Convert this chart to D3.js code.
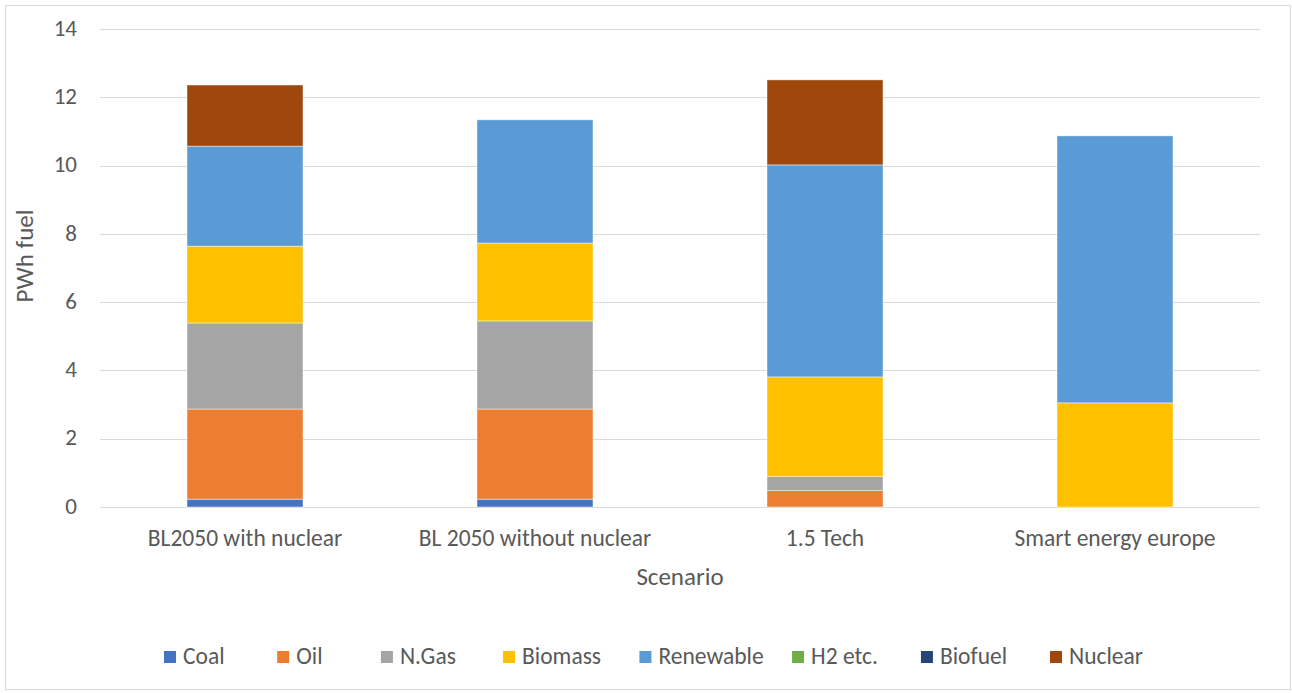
<!DOCTYPE html>
<html>
<head>
    <script src="https://d3js.org/d3.v7.min.js"></script>
</head>
<body style="margin: 0; background-color: white;">
<div id="my_dataviz"></div>
<script>

// data (PWh fuel)
var scenarios = ["BL2050 with nuclear", "BL 2050 without nuclear", "1.5 Tech", "Smart energy europe"];
var fuels = ["Coal", "Oil", "N.Gas", "Biomass", "Renewable", "H2 etc.", "Biofuel", "Nuclear"];
var coal      = [0.23, 0.23, 0.00, 0.00];
var oil       = [2.64, 2.64, 0.48, 0.00];
var ngas      = [2.52, 2.58, 0.41, 0.00];
var biomass   = [2.25, 2.28, 2.92, 3.05];
var renewable = [2.93, 3.61, 6.21, 7.82];
var h2        = [0, 0, 0, 0];
var biofuel   = [0, 0, 0, 0];
var nuclear   = [1.79, 0.00, 2.49, 0.00];
var yTicks = [0, 2, 4, 6, 8, 10, 12, 14];

var colors = ["#4472C4", "#ED7D31", "#A5A5A5", "#FFC000", "#5B9BD5", "#70AD47", "#264478", "#9E480E"];
var series = [coal, oil, ngas, biomass, renewable, h2, biofuel, nuclear];

// build table rows for d3.stack
var data = scenarios.map(function(s, i) {
  var row = {scenario: s};
  fuels.forEach(function(f, j) { row[f] = series[j][i]; });
  return row;
});

var W = 1292, H = 693;
var font = "Calibri, Carlito, 'Open Sans', sans-serif";
var textColor = "#595959";

var svg = d3.select("#my_dataviz")
  .append("svg")
    .attr("width", W)
    .attr("height", H)
    .style("display", "block");

// chart border
svg.append("rect")
  .attr("x", 5.5).attr("y", 5.5)
  .attr("width", 1285).attr("height", 684)
  .attr("fill", "white")
  .attr("stroke", "#d9d9d9");

var x = d3.scaleBand()
  .domain(scenarios)
  .range([100, 1260])
  .paddingInner(0.6)
  .paddingOuter(0.3);

var y = d3.scaleLinear()
  .domain([0, 14])
  .range([507, 29]);

// gridlines
svg.append("g")
  .selectAll("line")
  .data(yTicks)
  .enter().append("line")
    .attr("x1", 100).attr("x2", 1260)
    .attr("y1", function(d) { return Math.round(y(d)) + 0.5; })
    .attr("y2", function(d) { return Math.round(y(d)) + 0.5; })
    .attr("stroke", "#d9d9d9")
    .attr("stroke-width", 1);

// y axis labels
var yAxis = svg.append("g")
  .attr("transform", "translate(100,0)")
  .call(d3.axisLeft(y).tickValues(yTicks).tickSize(0).tickPadding(23));
yAxis.select(".domain").remove();
yAxis.selectAll("text")
  .attr("dy", "0.27em")
  .style("font-family", font)
  .style("font-size", "23px")
  .attr("fill", textColor);

// stacked bars
var stacked = d3.stack().keys(fuels)(data);
var color = d3.scaleOrdinal().domain(fuels).range(colors);

svg.append("g")
  .selectAll("g")
  .data(stacked)
  .enter().append("g")
    .attr("fill", function(d) { return color(d.key); })
  .selectAll("rect")
  .data(function(d) { return d.filter(function(p) { return p[1] - p[0] > 0; }); })
  .enter().append("rect")
    .attr("x", function(d) { return x(d.data.scenario); })
    .attr("y", function(d) { return y(d[1]); })
    .attr("width", x.bandwidth())
    .attr("height", function(d) { return y(d[0]) - y(d[1]); })
    .attr("stroke", "white")
    .attr("stroke-opacity", 0.6)
    .attr("stroke-width", 0.75);

// x axis labels
var xAxis = svg.append("g")
  .attr("transform", "translate(0,507)")
  .call(d3.axisBottom(x).tickSize(0).tickPadding(22));
xAxis.select(".domain").remove();
xAxis.selectAll("text")
  .style("font-family", font)
  .style("font-size", "23.5px")
  .attr("fill", textColor);

// axis titles
svg.append("text")
  .attr("x", 680).attr("y", 585)
  .attr("text-anchor", "middle")
  .style("font-family", font)
  .style("font-size", "25px")
  .attr("fill", textColor)
  .text("Scenario");

svg.append("text")
  .attr("transform", "translate(33,256) rotate(-90)")
  .attr("text-anchor", "middle")
  .style("font-family", font)
  .style("font-size", "25px")
  .attr("fill", textColor)
  .text("PWh fuel");

// legend: step between items grows with the item's width (Excel-like spacing)
var legend = svg.append("g");
var items = legend.selectAll("g")
  .data(fuels)
  .enter().append("g");
items.append("rect")
  .attr("width", 12).attr("height", 12)
  .attr("y", 651)
  .attr("fill", function(d) { return color(d); });
items.append("text")
  .attr("x", 19)
  .attr("y", 664)
  .style("font-family", font)
  .style("font-size", "23.5px")
  .attr("fill", textColor)
  .text(function(d) { return d; });

var widths = [];
items.select("text").each(function() { widths.push(19 + this.getComputedTextLength()); });
var k = 0.62;
var n = fuels.length;
var span = 1143 - 164 - widths[n - 1];
var c = (span - k * d3.sum(widths.slice(0, n - 1))) / (n - 1);
var pos = 164;
items.attr("transform", function(d, i) {
  var t = "translate(" + pos + ",0)";
  pos += c + k * widths[i];
  return t;
});

</script>
</body>
</html>
